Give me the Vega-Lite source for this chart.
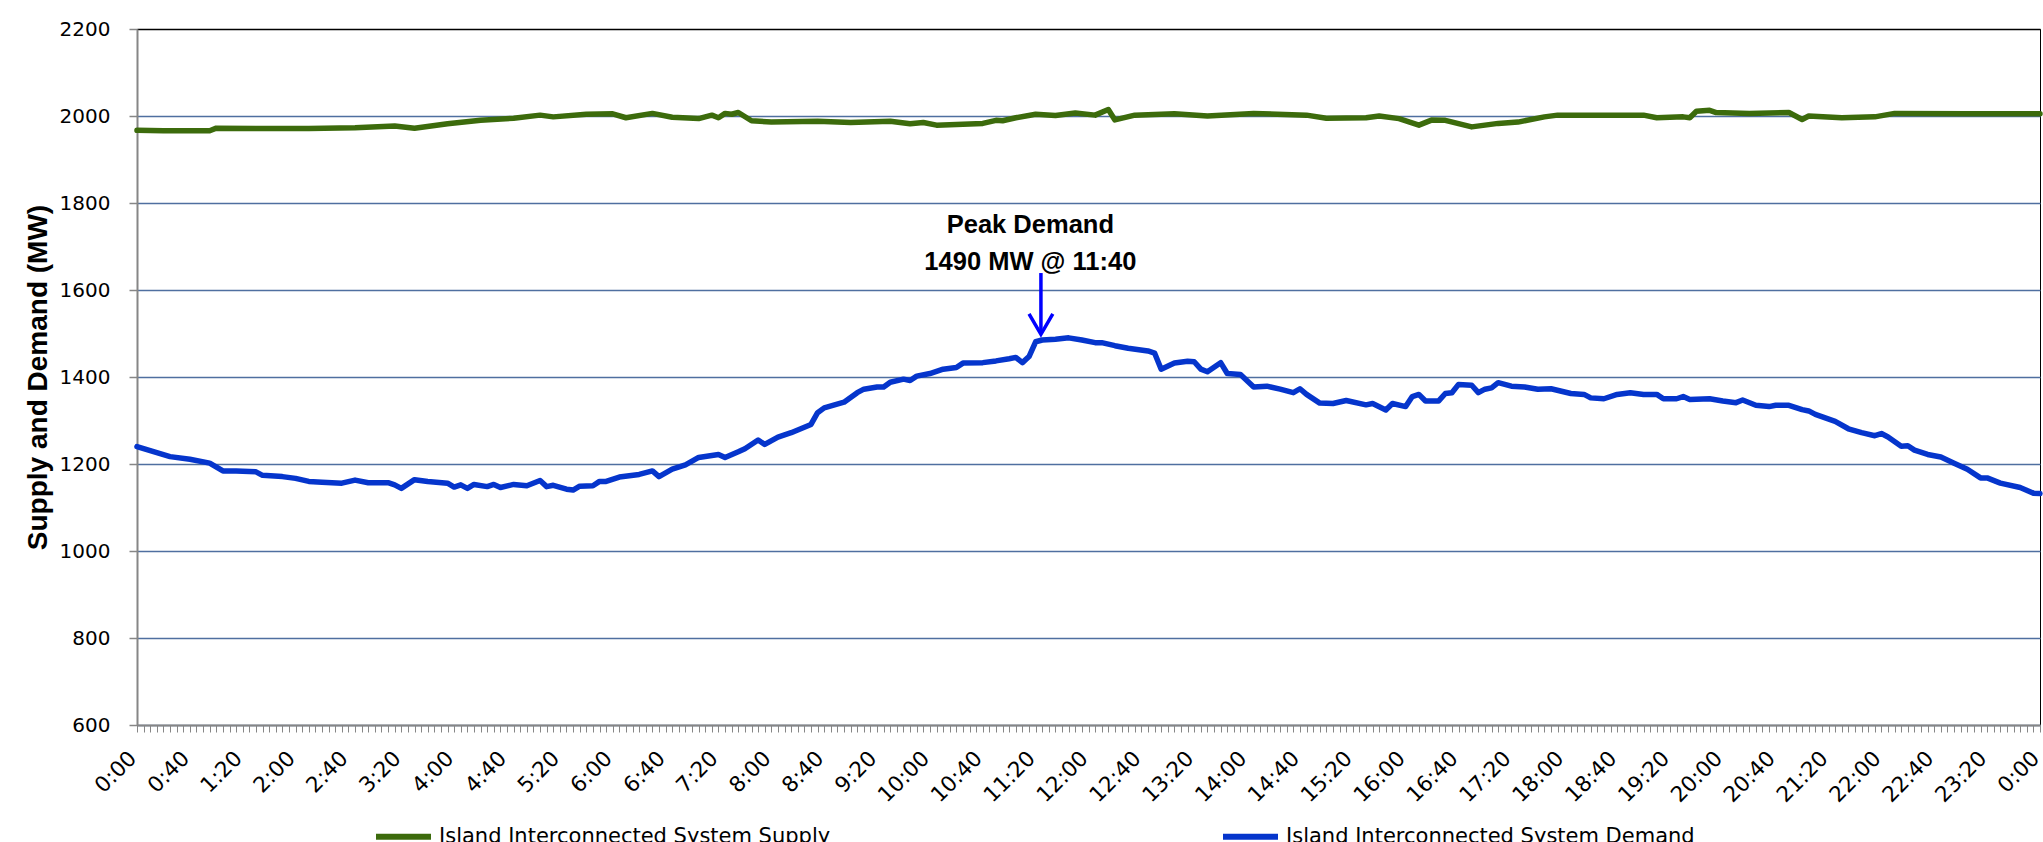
{
  "$schema": "https://vega.github.io/schema/vega-lite/v6.json",
  "width": 1903,
  "height": 696,
  "autosize": {"type": "none"},
  "padding": {"left": 137, "top": 29, "right": 3, "bottom": 117},
  "background": "white",
  "config": {"view": {"stroke": "black", "strokeWidth": 1}},
  "datasets": {
    "lines": [
      {"t": 0, "mw": 1967, "series": "Island Interconnected System Supply"},
      {"t": 20, "mw": 1966, "series": "Island Interconnected System Supply"},
      {"t": 55, "mw": 1966, "series": "Island Interconnected System Supply"},
      {"t": 60, "mw": 1972, "series": "Island Interconnected System Supply"},
      {"t": 95, "mw": 1971, "series": "Island Interconnected System Supply"},
      {"t": 130, "mw": 1971, "series": "Island Interconnected System Supply"},
      {"t": 165, "mw": 1973, "series": "Island Interconnected System Supply"},
      {"t": 195, "mw": 1977, "series": "Island Interconnected System Supply"},
      {"t": 210, "mw": 1972, "series": "Island Interconnected System Supply"},
      {"t": 235, "mw": 1982, "series": "Island Interconnected System Supply"},
      {"t": 260, "mw": 1990, "series": "Island Interconnected System Supply"},
      {"t": 285, "mw": 1995, "series": "Island Interconnected System Supply"},
      {"t": 305, "mw": 2002, "series": "Island Interconnected System Supply"},
      {"t": 315, "mw": 1998, "series": "Island Interconnected System Supply"},
      {"t": 340, "mw": 2004, "series": "Island Interconnected System Supply"},
      {"t": 360, "mw": 2005, "series": "Island Interconnected System Supply"},
      {"t": 370, "mw": 1996, "series": "Island Interconnected System Supply"},
      {"t": 390, "mw": 2006, "series": "Island Interconnected System Supply"},
      {"t": 405, "mw": 1997, "series": "Island Interconnected System Supply"},
      {"t": 425, "mw": 1994, "series": "Island Interconnected System Supply"},
      {"t": 435, "mw": 2002, "series": "Island Interconnected System Supply"},
      {"t": 440, "mw": 1996, "series": "Island Interconnected System Supply"},
      {"t": 445, "mw": 2006, "series": "Island Interconnected System Supply"},
      {"t": 450, "mw": 2004, "series": "Island Interconnected System Supply"},
      {"t": 455, "mw": 2008, "series": "Island Interconnected System Supply"},
      {"t": 465, "mw": 1989, "series": "Island Interconnected System Supply"},
      {"t": 480, "mw": 1986, "series": "Island Interconnected System Supply"},
      {"t": 515, "mw": 1988, "series": "Island Interconnected System Supply"},
      {"t": 540, "mw": 1985, "series": "Island Interconnected System Supply"},
      {"t": 570, "mw": 1988, "series": "Island Interconnected System Supply"},
      {"t": 585, "mw": 1982, "series": "Island Interconnected System Supply"},
      {"t": 595, "mw": 1985, "series": "Island Interconnected System Supply"},
      {"t": 605, "mw": 1979, "series": "Island Interconnected System Supply"},
      {"t": 640, "mw": 1983, "series": "Island Interconnected System Supply"},
      {"t": 650, "mw": 1990, "series": "Island Interconnected System Supply"},
      {"t": 655, "mw": 1989, "series": "Island Interconnected System Supply"},
      {"t": 665, "mw": 1996, "series": "Island Interconnected System Supply"},
      {"t": 680, "mw": 2004, "series": "Island Interconnected System Supply"},
      {"t": 695, "mw": 2001, "series": "Island Interconnected System Supply"},
      {"t": 710, "mw": 2007, "series": "Island Interconnected System Supply"},
      {"t": 725, "mw": 2002, "series": "Island Interconnected System Supply"},
      {"t": 735, "mw": 2015, "series": "Island Interconnected System Supply"},
      {"t": 740, "mw": 1991, "series": "Island Interconnected System Supply"},
      {"t": 755, "mw": 2002, "series": "Island Interconnected System Supply"},
      {"t": 785, "mw": 2005, "series": "Island Interconnected System Supply"},
      {"t": 810, "mw": 2000, "series": "Island Interconnected System Supply"},
      {"t": 845, "mw": 2006, "series": "Island Interconnected System Supply"},
      {"t": 885, "mw": 2002, "series": "Island Interconnected System Supply"},
      {"t": 900, "mw": 1995, "series": "Island Interconnected System Supply"},
      {"t": 930, "mw": 1996, "series": "Island Interconnected System Supply"},
      {"t": 940, "mw": 2000, "series": "Island Interconnected System Supply"},
      {"t": 955, "mw": 1994, "series": "Island Interconnected System Supply"},
      {"t": 970, "mw": 1979, "series": "Island Interconnected System Supply"},
      {"t": 980, "mw": 1991, "series": "Island Interconnected System Supply"},
      {"t": 990, "mw": 1990, "series": "Island Interconnected System Supply"},
      {"t": 1010, "mw": 1975, "series": "Island Interconnected System Supply"},
      {"t": 1030, "mw": 1983, "series": "Island Interconnected System Supply"},
      {"t": 1045, "mw": 1986, "series": "Island Interconnected System Supply"},
      {"t": 1065, "mw": 1998, "series": "Island Interconnected System Supply"},
      {"t": 1075, "mw": 2002, "series": "Island Interconnected System Supply"},
      {"t": 1120, "mw": 2002, "series": "Island Interconnected System Supply"},
      {"t": 1140, "mw": 2002, "series": "Island Interconnected System Supply"},
      {"t": 1150, "mw": 1996, "series": "Island Interconnected System Supply"},
      {"t": 1170, "mw": 1998, "series": "Island Interconnected System Supply"},
      {"t": 1175, "mw": 1996, "series": "Island Interconnected System Supply"},
      {"t": 1180, "mw": 2011, "series": "Island Interconnected System Supply"},
      {"t": 1190, "mw": 2013, "series": "Island Interconnected System Supply"},
      {"t": 1195, "mw": 2008, "series": "Island Interconnected System Supply"},
      {"t": 1220, "mw": 2006, "series": "Island Interconnected System Supply"},
      {"t": 1250, "mw": 2008, "series": "Island Interconnected System Supply"},
      {"t": 1260, "mw": 1992, "series": "Island Interconnected System Supply"},
      {"t": 1265, "mw": 2000, "series": "Island Interconnected System Supply"},
      {"t": 1290, "mw": 1996, "series": "Island Interconnected System Supply"},
      {"t": 1315, "mw": 1998, "series": "Island Interconnected System Supply"},
      {"t": 1330, "mw": 2006, "series": "Island Interconnected System Supply"},
      {"t": 1385, "mw": 2005, "series": "Island Interconnected System Supply"},
      {"t": 1440, "mw": 2005, "series": "Island Interconnected System Supply"},

      {"t": 0, "mw": 1240, "series": "Island Interconnected System Demand"},
      {"t": 15, "mw": 1226, "series": "Island Interconnected System Demand"},
      {"t": 25, "mw": 1217, "series": "Island Interconnected System Demand"},
      {"t": 40, "mw": 1211, "series": "Island Interconnected System Demand"},
      {"t": 55, "mw": 1202, "series": "Island Interconnected System Demand"},
      {"t": 65, "mw": 1184, "series": "Island Interconnected System Demand"},
      {"t": 75, "mw": 1184, "series": "Island Interconnected System Demand"},
      {"t": 90, "mw": 1182, "series": "Island Interconnected System Demand"},
      {"t": 95, "mw": 1174, "series": "Island Interconnected System Demand"},
      {"t": 110, "mw": 1171, "series": "Island Interconnected System Demand"},
      {"t": 120, "mw": 1167, "series": "Island Interconnected System Demand"},
      {"t": 130, "mw": 1160, "series": "Island Interconnected System Demand"},
      {"t": 140, "mw": 1158, "series": "Island Interconnected System Demand"},
      {"t": 155, "mw": 1156, "series": "Island Interconnected System Demand"},
      {"t": 165, "mw": 1163, "series": "Island Interconnected System Demand"},
      {"t": 175, "mw": 1157, "series": "Island Interconnected System Demand"},
      {"t": 190, "mw": 1157, "series": "Island Interconnected System Demand"},
      {"t": 195, "mw": 1152, "series": "Island Interconnected System Demand"},
      {"t": 200, "mw": 1144, "series": "Island Interconnected System Demand"},
      {"t": 210, "mw": 1164, "series": "Island Interconnected System Demand"},
      {"t": 220, "mw": 1160, "series": "Island Interconnected System Demand"},
      {"t": 235, "mw": 1156, "series": "Island Interconnected System Demand"},
      {"t": 240, "mw": 1147, "series": "Island Interconnected System Demand"},
      {"t": 245, "mw": 1152, "series": "Island Interconnected System Demand"},
      {"t": 250, "mw": 1144, "series": "Island Interconnected System Demand"},
      {"t": 255, "mw": 1153, "series": "Island Interconnected System Demand"},
      {"t": 265, "mw": 1148, "series": "Island Interconnected System Demand"},
      {"t": 270, "mw": 1153, "series": "Island Interconnected System Demand"},
      {"t": 275, "mw": 1146, "series": "Island Interconnected System Demand"},
      {"t": 285, "mw": 1153, "series": "Island Interconnected System Demand"},
      {"t": 295, "mw": 1150, "series": "Island Interconnected System Demand"},
      {"t": 305, "mw": 1162, "series": "Island Interconnected System Demand"},
      {"t": 310, "mw": 1148, "series": "Island Interconnected System Demand"},
      {"t": 315, "mw": 1151, "series": "Island Interconnected System Demand"},
      {"t": 325, "mw": 1142, "series": "Island Interconnected System Demand"},
      {"t": 330, "mw": 1140, "series": "Island Interconnected System Demand"},
      {"t": 335, "mw": 1149, "series": "Island Interconnected System Demand"},
      {"t": 345, "mw": 1150, "series": "Island Interconnected System Demand"},
      {"t": 350, "mw": 1160, "series": "Island Interconnected System Demand"},
      {"t": 355, "mw": 1160, "series": "Island Interconnected System Demand"},
      {"t": 365, "mw": 1170, "series": "Island Interconnected System Demand"},
      {"t": 380, "mw": 1176, "series": "Island Interconnected System Demand"},
      {"t": 390, "mw": 1184, "series": "Island Interconnected System Demand"},
      {"t": 395, "mw": 1171, "series": "Island Interconnected System Demand"},
      {"t": 405, "mw": 1188, "series": "Island Interconnected System Demand"},
      {"t": 415, "mw": 1198, "series": "Island Interconnected System Demand"},
      {"t": 425, "mw": 1215, "series": "Island Interconnected System Demand"},
      {"t": 440, "mw": 1222, "series": "Island Interconnected System Demand"},
      {"t": 445, "mw": 1215, "series": "Island Interconnected System Demand"},
      {"t": 455, "mw": 1228, "series": "Island Interconnected System Demand"},
      {"t": 460, "mw": 1235, "series": "Island Interconnected System Demand"},
      {"t": 470, "mw": 1255, "series": "Island Interconnected System Demand"},
      {"t": 475, "mw": 1245, "series": "Island Interconnected System Demand"},
      {"t": 485, "mw": 1262, "series": "Island Interconnected System Demand"},
      {"t": 495, "mw": 1272, "series": "Island Interconnected System Demand"},
      {"t": 510, "mw": 1291, "series": "Island Interconnected System Demand"},
      {"t": 515, "mw": 1318, "series": "Island Interconnected System Demand"},
      {"t": 520, "mw": 1329, "series": "Island Interconnected System Demand"},
      {"t": 535, "mw": 1342, "series": "Island Interconnected System Demand"},
      {"t": 545, "mw": 1364, "series": "Island Interconnected System Demand"},
      {"t": 550, "mw": 1372, "series": "Island Interconnected System Demand"},
      {"t": 560, "mw": 1377, "series": "Island Interconnected System Demand"},
      {"t": 565, "mw": 1377, "series": "Island Interconnected System Demand"},
      {"t": 570, "mw": 1388, "series": "Island Interconnected System Demand"},
      {"t": 580, "mw": 1395, "series": "Island Interconnected System Demand"},
      {"t": 585, "mw": 1392, "series": "Island Interconnected System Demand"},
      {"t": 590, "mw": 1402, "series": "Island Interconnected System Demand"},
      {"t": 600, "mw": 1408, "series": "Island Interconnected System Demand"},
      {"t": 610, "mw": 1418, "series": "Island Interconnected System Demand"},
      {"t": 620, "mw": 1422, "series": "Island Interconnected System Demand"},
      {"t": 625, "mw": 1432, "series": "Island Interconnected System Demand"},
      {"t": 640, "mw": 1433, "series": "Island Interconnected System Demand"},
      {"t": 650, "mw": 1437, "series": "Island Interconnected System Demand"},
      {"t": 660, "mw": 1442, "series": "Island Interconnected System Demand"},
      {"t": 665, "mw": 1445, "series": "Island Interconnected System Demand"},
      {"t": 670, "mw": 1433, "series": "Island Interconnected System Demand"},
      {"t": 675, "mw": 1447, "series": "Island Interconnected System Demand"},
      {"t": 680, "mw": 1481, "series": "Island Interconnected System Demand"},
      {"t": 685, "mw": 1485, "series": "Island Interconnected System Demand"},
      {"t": 695, "mw": 1487, "series": "Island Interconnected System Demand"},
      {"t": 705, "mw": 1490, "series": "Island Interconnected System Demand"},
      {"t": 715, "mw": 1485, "series": "Island Interconnected System Demand"},
      {"t": 725, "mw": 1479, "series": "Island Interconnected System Demand"},
      {"t": 730, "mw": 1479, "series": "Island Interconnected System Demand"},
      {"t": 740, "mw": 1472, "series": "Island Interconnected System Demand"},
      {"t": 750, "mw": 1466, "series": "Island Interconnected System Demand"},
      {"t": 765, "mw": 1460, "series": "Island Interconnected System Demand"},
      {"t": 770, "mw": 1455, "series": "Island Interconnected System Demand"},
      {"t": 775, "mw": 1418, "series": "Island Interconnected System Demand"},
      {"t": 785, "mw": 1432, "series": "Island Interconnected System Demand"},
      {"t": 795, "mw": 1436, "series": "Island Interconnected System Demand"},
      {"t": 800, "mw": 1435, "series": "Island Interconnected System Demand"},
      {"t": 805, "mw": 1418, "series": "Island Interconnected System Demand"},
      {"t": 810, "mw": 1412, "series": "Island Interconnected System Demand"},
      {"t": 820, "mw": 1433, "series": "Island Interconnected System Demand"},
      {"t": 825, "mw": 1408, "series": "Island Interconnected System Demand"},
      {"t": 835, "mw": 1406, "series": "Island Interconnected System Demand"},
      {"t": 845, "mw": 1377, "series": "Island Interconnected System Demand"},
      {"t": 855, "mw": 1379, "series": "Island Interconnected System Demand"},
      {"t": 865, "mw": 1372, "series": "Island Interconnected System Demand"},
      {"t": 875, "mw": 1364, "series": "Island Interconnected System Demand"},
      {"t": 880, "mw": 1373, "series": "Island Interconnected System Demand"},
      {"t": 885, "mw": 1360, "series": "Island Interconnected System Demand"},
      {"t": 895, "mw": 1340, "series": "Island Interconnected System Demand"},
      {"t": 905, "mw": 1339, "series": "Island Interconnected System Demand"},
      {"t": 915, "mw": 1346, "series": "Island Interconnected System Demand"},
      {"t": 930, "mw": 1336, "series": "Island Interconnected System Demand"},
      {"t": 935, "mw": 1339, "series": "Island Interconnected System Demand"},
      {"t": 945, "mw": 1324, "series": "Island Interconnected System Demand"},
      {"t": 950, "mw": 1339, "series": "Island Interconnected System Demand"},
      {"t": 960, "mw": 1332, "series": "Island Interconnected System Demand"},
      {"t": 965, "mw": 1355, "series": "Island Interconnected System Demand"},
      {"t": 970, "mw": 1360, "series": "Island Interconnected System Demand"},
      {"t": 975, "mw": 1345, "series": "Island Interconnected System Demand"},
      {"t": 985, "mw": 1345, "series": "Island Interconnected System Demand"},
      {"t": 990, "mw": 1362, "series": "Island Interconnected System Demand"},
      {"t": 995, "mw": 1364, "series": "Island Interconnected System Demand"},
      {"t": 1000, "mw": 1383, "series": "Island Interconnected System Demand"},
      {"t": 1010, "mw": 1381, "series": "Island Interconnected System Demand"},
      {"t": 1015, "mw": 1364, "series": "Island Interconnected System Demand"},
      {"t": 1020, "mw": 1372, "series": "Island Interconnected System Demand"},
      {"t": 1025, "mw": 1375, "series": "Island Interconnected System Demand"},
      {"t": 1030, "mw": 1387, "series": "Island Interconnected System Demand"},
      {"t": 1040, "mw": 1379, "series": "Island Interconnected System Demand"},
      {"t": 1050, "mw": 1377, "series": "Island Interconnected System Demand"},
      {"t": 1060, "mw": 1372, "series": "Island Interconnected System Demand"},
      {"t": 1070, "mw": 1373, "series": "Island Interconnected System Demand"},
      {"t": 1085, "mw": 1362, "series": "Island Interconnected System Demand"},
      {"t": 1095, "mw": 1360, "series": "Island Interconnected System Demand"},
      {"t": 1100, "mw": 1352, "series": "Island Interconnected System Demand"},
      {"t": 1110, "mw": 1350, "series": "Island Interconnected System Demand"},
      {"t": 1120, "mw": 1360, "series": "Island Interconnected System Demand"},
      {"t": 1130, "mw": 1364, "series": "Island Interconnected System Demand"},
      {"t": 1140, "mw": 1360, "series": "Island Interconnected System Demand"},
      {"t": 1150, "mw": 1360, "series": "Island Interconnected System Demand"},
      {"t": 1155, "mw": 1350, "series": "Island Interconnected System Demand"},
      {"t": 1165, "mw": 1350, "series": "Island Interconnected System Demand"},
      {"t": 1170, "mw": 1355, "series": "Island Interconnected System Demand"},
      {"t": 1175, "mw": 1348, "series": "Island Interconnected System Demand"},
      {"t": 1190, "mw": 1350, "series": "Island Interconnected System Demand"},
      {"t": 1200, "mw": 1345, "series": "Island Interconnected System Demand"},
      {"t": 1210, "mw": 1341, "series": "Island Interconnected System Demand"},
      {"t": 1215, "mw": 1347, "series": "Island Interconnected System Demand"},
      {"t": 1225, "mw": 1335, "series": "Island Interconnected System Demand"},
      {"t": 1235, "mw": 1332, "series": "Island Interconnected System Demand"},
      {"t": 1240, "mw": 1335, "series": "Island Interconnected System Demand"},
      {"t": 1250, "mw": 1335, "series": "Island Interconnected System Demand"},
      {"t": 1260, "mw": 1325, "series": "Island Interconnected System Demand"},
      {"t": 1265, "mw": 1322, "series": "Island Interconnected System Demand"},
      {"t": 1270, "mw": 1314, "series": "Island Interconnected System Demand"},
      {"t": 1285, "mw": 1298, "series": "Island Interconnected System Demand"},
      {"t": 1295, "mw": 1281, "series": "Island Interconnected System Demand"},
      {"t": 1305, "mw": 1272, "series": "Island Interconnected System Demand"},
      {"t": 1315, "mw": 1265, "series": "Island Interconnected System Demand"},
      {"t": 1320, "mw": 1270, "series": "Island Interconnected System Demand"},
      {"t": 1325, "mw": 1262, "series": "Island Interconnected System Demand"},
      {"t": 1335, "mw": 1241, "series": "Island Interconnected System Demand"},
      {"t": 1340, "mw": 1242, "series": "Island Interconnected System Demand"},
      {"t": 1345, "mw": 1232, "series": "Island Interconnected System Demand"},
      {"t": 1355, "mw": 1222, "series": "Island Interconnected System Demand"},
      {"t": 1365, "mw": 1216, "series": "Island Interconnected System Demand"},
      {"t": 1375, "mw": 1202, "series": "Island Interconnected System Demand"},
      {"t": 1385, "mw": 1188, "series": "Island Interconnected System Demand"},
      {"t": 1395, "mw": 1168, "series": "Island Interconnected System Demand"},
      {"t": 1400, "mw": 1168, "series": "Island Interconnected System Demand"},
      {"t": 1410, "mw": 1156, "series": "Island Interconnected System Demand"},
      {"t": 1425, "mw": 1146, "series": "Island Interconnected System Demand"},
      {"t": 1435, "mw": 1133, "series": "Island Interconnected System Demand"},
      {"t": 1440, "mw": 1132, "series": "Island Interconnected System Demand"}
    ],
    "stem": [{"t": 684, "mw": 1639, "mw2": 1500}],
    "head": [
      {"t": 675, "mw": 1545},
      {"t": 684, "mw": 1498},
      {"t": 693, "mw": 1545}
    ],
    "notes": [
      {"t": 676, "mw": 1732, "label": "Peak Demand"},
      {"t": 676, "mw": 1646, "label": "1490 MW @ 11:40"}
    ]
  },
  "layer": [
    {
      "data": {"name": "lines"},
      "mark": {"type": "line", "strokeWidth": 5.5, "strokeJoin": "round", "strokeCap": "round"},
      "encoding": {
        "x": {
          "field": "t", "type": "quantitative",
          "scale": {"domain": [0, 1440], "nice": false, "zero": false},
          "axis": {
            "title": null,
            "tickCount": 288,
            "labelExpr": "datum.value % 40 == 0 ? (floor(datum.value / 60) % 24) + ':' + (datum.value % 60 < 10 ? '0' : '') + (datum.value % 60) : ''",
            "labelAngle": -45, "labelAlign": "right", "labelBaseline": "middle",
            "labelFont": "DejaVu Sans", "labelFontSize": 21.5, "labelColor": "black",
            "labelPadding": 23, "labelOffset": -4,
            "labelOverlap": false, "labelFlush": false, "labelBound": false,
            "grid": false,
            "domainColor": "#868686", "domainWidth": 2,
            "tickColor": "#868686", "tickSize": 7, "tickWidth": 1
          }
        },
        "y": {
          "field": "mw", "type": "quantitative",
          "scale": {"domain": [600, 2200], "nice": false, "zero": false},
          "axis": {
            "title": "Supply and Demand (MW)",
            "values": [600, 800, 1000, 1200, 1400, 1600, 1800, 2000, 2200],
            "format": "d",
            "titleFont": "Liberation Sans", "titleFontWeight": "bold", "titleFontSize": 28, "titleColor": "black",
            "titleAngle": -90, "titleX": -85, "titleY": 348, "titleBaseline": "bottom", "titleAlign": "center",
            "labelFont": "DejaVu Sans", "labelFontSize": 20, "labelColor": "black", "labelPadding": 19,
            "tickSize": 8, "tickColor": "#868686", "tickWidth": 1.5,
            "domainColor": "#868686", "domainWidth": 2,
            "grid": true,
            "gridColor": {"condition": {"test": "datum.value >= 2200", "value": "black"}, "value": "#4f6fa0"},
            "gridWidth": 1.3
          }
        },
        "color": {
          "field": "series", "type": "nominal",
          "scale": {
            "domain": ["Island Interconnected System Supply", "Island Interconnected System Demand"],
            "range": ["#3c6b0c", "#0535cc"]
          },
          "legend": {
            "title": null, "orient": "none", "legendX": 236, "legendY": 777,
            "direction": "horizontal", "columns": 2, "columnPadding": 380,
            "symbolType": "stroke", "symbolSize": 3025, "symbolStrokeWidth": 6,
            "labelFont": "DejaVu Sans", "labelFontSize": 21, "labelColor": "black",
            "labelLimit": 0, "labelOffset": 5
          }
        }
      }
    },
    {
      "data": {"name": "stem"},
      "mark": {"type": "rule", "color": "#0000ff", "strokeWidth": 3.5},
      "encoding": {
        "x": {"field": "t", "type": "quantitative"},
        "y": {"field": "mw", "type": "quantitative"},
        "y2": {"field": "mw2"}
      }
    },
    {
      "data": {"name": "head"},
      "mark": {"type": "line", "color": "#0000ff", "strokeWidth": 3.5, "strokeJoin": "miter"},
      "encoding": {
        "x": {"field": "t", "type": "quantitative"},
        "y": {"field": "mw", "type": "quantitative"}
      }
    },
    {
      "data": {"name": "notes"},
      "mark": {"type": "text", "font": "Liberation Sans", "fontWeight": "bold", "fontSize": 25.5, "align": "center", "baseline": "alphabetic", "color": "black"},
      "encoding": {
        "x": {"field": "t", "type": "quantitative"},
        "y": {"field": "mw", "type": "quantitative"},
        "text": {"field": "label"}
      }
    }
  ]
}
